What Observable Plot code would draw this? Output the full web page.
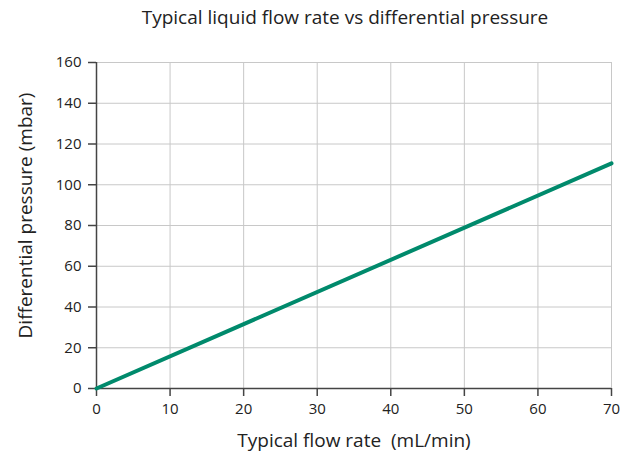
<!DOCTYPE html>
<html><head><meta charset="utf-8">
<script src="https://cdn.jsdelivr.net/npm/d3@7"></script>
<script src="https://cdn.jsdelivr.net/npm/@observablehq/plot@0.6"></script>
<style>
body{margin:0;background:#fff;font-family:"Open Sans",sans-serif;}
#title{height:36px;line-height:34px;font-size:19px;color:#222;width:630px;text-align:center;padding-left:60px;box-sizing:border-box;}
</style></head>
<body>
<div id="title">Typical liquid flow rate vs differential pressure</div>
<div id="chart"></div>
<script>
const flowRate = [0, 70];          // mL/min
const pressure = [0, 110.5];       // mbar
const xTicks = [0, 10, 20, 30, 40, 50, 60, 70];
const yTicks = [0, 20, 40, 60, 80, 100, 120, 140, 160];

const data = flowRate.map((f, i) => ({f, p: pressure[i]}));

const chart = Plot.plot({
  width: 630,
  height: 417,
  marginLeft: 96,
  marginRight: 19,
  marginTop: 26,
  marginBottom: 65,
  style: {fontFamily: "'Open Sans', sans-serif", fontSize: "15px", color: "#222", background: "#fff"},
  x: {domain: [0, 70], ticks: xTicks, label: null, tickSize: 0},
  y: {domain: [0, 160], ticks: yTicks, label: null, tickSize: 0},
  marks: [
    Plot.gridX(xTicks.filter(d => d > 0), {stroke: "#c8c8c8", strokeOpacity: 1, strokeWidth: 1}),
    Plot.gridY(yTicks.filter(d => d > 0), {stroke: "#c8c8c8", strokeOpacity: 1, strokeWidth: 1}),
    Plot.axisX(xTicks, {tickSize: 8, tickPadding: 7, stroke: "#444", strokeWidth: 1.5, fontSize: 15, fill: "#222"}),
    Plot.axisY(yTicks, {tickSize: 8, tickPadding: 7, stroke: "#444", strokeWidth: 1.5, fontSize: 15, fill: "#222"}),
    Plot.ruleX([0], {stroke: "#444", strokeWidth: 1.5}),
    Plot.ruleY([0], {stroke: "#444", strokeWidth: 1.5}),
    Plot.line(data, {x: "f", y: "p", stroke: "#008a6c", strokeWidth: 4}),
    Plot.text(["Typical flow rate  (mL/min)"], {frameAnchor: "bottom", dy: 58, fontSize: 19, fill: "#222"}),
    Plot.text(["Differential pressure (mbar)"], {frameAnchor: "left", dx: -71, dy: -10, rotate: -90, textAnchor: "middle", fontSize: 19, fill: "#222"})
  ]
});
document.getElementById("chart").appendChild(chart);
</script>
</body></html>
